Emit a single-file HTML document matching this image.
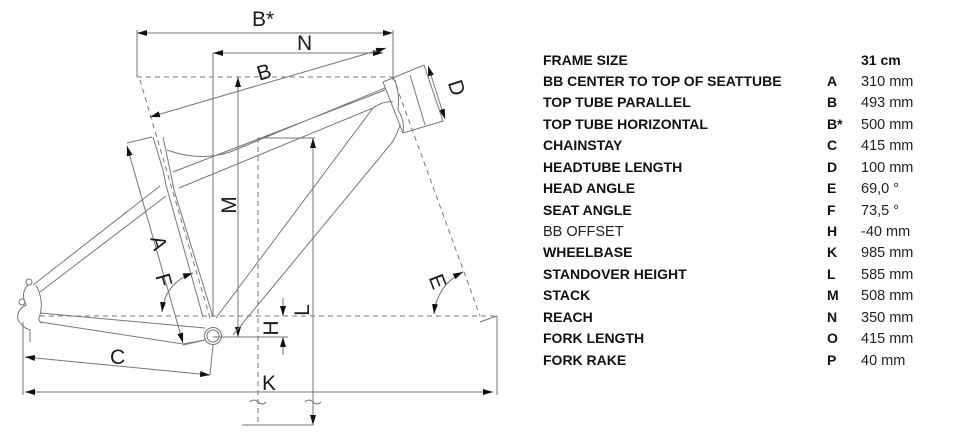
<!DOCTYPE html>
<html><head><meta charset="utf-8"><style>
html,body{margin:0;padding:0;background:#fff;width:956px;height:433px;overflow:hidden}
svg{display:block}
.l{stroke:#777;stroke-width:1;fill:none}
.d{stroke:#777;stroke-width:1;fill:none;stroke-dasharray:5 4}
.lab{font-family:"Liberation Sans",sans-serif;font-size:21px;fill:#1a1a1a}
.t{font-family:"Liberation Sans",sans-serif;font-size:14px;font-weight:bold;fill:#111}
.n{font-family:"Liberation Sans",sans-serif;font-size:14.5px;fill:#222}
</style></head><body>
<svg width="956" height="433" viewBox="0 0 956 433" xmlns="http://www.w3.org/2000/svg">
<defs>
<marker id="a" viewBox="0 0 10 6" refX="10" refY="3" markerWidth="10" markerHeight="6" orient="auto-start-reverse" markerUnits="userSpaceOnUse"><path d="M0,0L10,3L0,6z" fill="#111"/></marker>
</defs>
<line class="l" x1="137" y1="30" x2="137" y2="77"/>
<line class="l" x1="393" y1="30" x2="393" y2="80"/>
<line class="l" x1="213" y1="53" x2="213" y2="316"/>
<line class="d" x1="137" y1="77" x2="393" y2="77"/>
<line class="d" x1="140" y1="80" x2="210" y2="318"/>
<line class="d" x1="393" y1="77" x2="480" y2="316"/>
<line class="d" x1="40" y1="316" x2="497" y2="316"/>
<line class="l" x1="480" y1="322" x2="497" y2="316"/>
<line class="l" x1="497" y1="316" x2="497" y2="395"/>
<line class="d" x1="258" y1="138" x2="258" y2="425"/>
<line class="l" x1="258" y1="138" x2="315" y2="138"/>
<line class="l" x1="242" y1="425" x2="313" y2="425"/>
<line class="l" x1="213" y1="337" x2="288" y2="337"/>
<line class="l" x1="23" y1="322" x2="23" y2="395"/>
<line class="l" x1="210" y1="375" x2="213" y2="345"/>
<line class="l" x1="183" y1="345" x2="205" y2="340"/>
<line class="l" x1="127" y1="143" x2="152" y2="137"/>
<path class="l" d="M250,402 q4,-4 8,0 t8,0 M305,402 q4,-4 8,0 t8,0"/>
<line class="l" x1="137" y1="33" x2="393" y2="33" marker-start="url(#a)" marker-end="url(#a)"/>
<line class="l" x1="213" y1="53" x2="383" y2="53" marker-start="url(#a)" marker-end="url(#a)"/>
<line class="l" x1="150" y1="117" x2="386" y2="48" marker-start="url(#a)" marker-end="url(#a)"/>
<line class="l" x1="238" y1="77" x2="238" y2="337" marker-start="url(#a)" marker-end="url(#a)"/>
<line class="l" x1="313" y1="138" x2="313" y2="425" marker-start="url(#a)" marker-end="url(#a)"/>
<line class="l" x1="127" y1="146" x2="183" y2="343" marker-start="url(#a)" marker-end="url(#a)"/>
<line class="l" x1="25" y1="357" x2="210" y2="375" marker-start="url(#a)" marker-end="url(#a)"/>
<line class="l" x1="25" y1="392" x2="493" y2="392" marker-start="url(#a)" marker-end="url(#a)"/>
<line class="l" x1="428" y1="66" x2="445" y2="119" marker-start="url(#a)" marker-end="url(#a)"/>
<line class="l" x1="283" y1="298" x2="283" y2="316" marker-end="url(#a)"/>
<line class="l" x1="283" y1="355" x2="283" y2="337" marker-end="url(#a)"/>
<path class="l" d="M162,312 Q165,283 193,273" marker-start="url(#a)" marker-end="url(#a)"/>
<path class="l" d="M434,314 Q437,285 463,272" marker-start="url(#a)" marker-end="url(#a)"/>
<polygon class="l" points="383,82 424,65 443,121 403,133"/>
<path class="l" d="M395,80 Q400,95 398,110 Q405,120 403,133 M410,75 L425,125"/>
<path class="l" d="M163,137 L170,170 L174,190 L213,317 M153,137 L163,170 L166,185 L203,317"/>
<path class="l" d="M167,150 Q200,162 230,152 L385,88 M173,172 L385,90 M179,188 L373,108 Q385,100 393,102"/>
<path class="l" d="M373,108 L216,318 M400,125 Q395,140 390,145 L233,335"/>
<path class="l" d="M160,186 L33,285 M166,196 L40,292"/>
<path class="l" d="M40,313 L205,328 M40,322 L183,344 L205,340"/>
<path class="l" d="M28,285 q-8,8 -2,20 q-10,5 -8,15 q5,8 12,10 l0,12 M36,285 q8,15 4,30 q-3,6 2,8"/>
<circle class="l" cx="22" cy="302" r="3"/><circle class="l" cx="29" cy="282" r="3"/>
<circle class="l" cx="213" cy="336" r="8.5"/><circle class="l" cx="213" cy="336" r="6"/>
<text class="lab" x="252" y="26">B*</text>
<text class="lab" x="297" y="50">N</text>
<text class="lab" transform="translate(266,79) rotate(-16)" text-anchor="middle">B</text>
<text class="lab" transform="translate(236,205) rotate(-90)" text-anchor="middle">M</text>
<text class="lab" transform="translate(450,90) rotate(72)" text-anchor="middle">D</text>
<text class="lab" transform="translate(152,245) rotate(74)" text-anchor="middle">A</text>
<text class="lab" transform="translate(157,282) rotate(74)" text-anchor="middle">F</text>
<text class="lab" transform="translate(431,284) rotate(69)" text-anchor="middle">E</text>
<text class="lab" transform="translate(278,328) rotate(-90)" text-anchor="middle">H</text>
<text class="lab" transform="translate(309,310) rotate(-90)" text-anchor="middle">L</text>
<text class="lab" x="110" y="364">C</text>
<text class="lab" x="262" y="390">K</text>
<g>
<text class="t" x="543" y="65">FRAME SIZE</text><text class="t" x="861" y="65">31 cm</text>
<text class="t" x="543" y="86">BB CENTER TO TOP OF SEATTUBE</text><text class="t" x="827" y="86">A</text><text class="n" x="861" y="86">310 mm</text>
<text class="t" x="543" y="107">TOP TUBE PARALLEL</text><text class="t" x="827" y="107">B</text><text class="n" x="861" y="107">493 mm</text>
<text class="t" x="543" y="129">TOP TUBE HORIZONTAL</text><text class="t" x="827" y="129">B*</text><text class="n" x="861" y="129">500 mm</text>
<text class="t" x="543" y="150">CHAINSTAY</text><text class="t" x="827" y="150">C</text><text class="n" x="861" y="150">415 mm</text>
<text class="t" x="543" y="172">HEADTUBE LENGTH</text><text class="t" x="827" y="172">D</text><text class="n" x="861" y="172">100 mm</text>
<text class="t" x="543" y="193">HEAD ANGLE</text><text class="t" x="827" y="193">E</text><text class="n" x="861" y="193">69,0 °</text>
<text class="t" x="543" y="215">SEAT ANGLE</text><text class="t" x="827" y="215">F</text><text class="n" x="861" y="215">73,5 °</text>
<text class="n" x="543" y="236">BB OFFSET</text><text class="t" x="827" y="236">H</text><text class="n" x="861" y="236">-40 mm</text>
<text class="t" x="543" y="257">WHEELBASE</text><text class="t" x="827" y="257">K</text><text class="n" x="861" y="257">985 mm</text>
<text class="t" x="543" y="279">STANDOVER HEIGHT</text><text class="t" x="827" y="279">L</text><text class="n" x="861" y="279">585 mm</text>
<text class="t" x="543" y="300">STACK</text><text class="t" x="827" y="300">M</text><text class="n" x="861" y="300">508 mm</text>
<text class="t" x="543" y="322">REACH</text><text class="t" x="827" y="322">N</text><text class="n" x="861" y="322">350 mm</text>
<text class="t" x="543" y="343">FORK LENGTH</text><text class="t" x="827" y="343">O</text><text class="n" x="861" y="343">415 mm</text>
<text class="t" x="543" y="365">FORK RAKE</text><text class="t" x="827" y="365">P</text><text class="n" x="861" y="365">40 mm</text>
</g>
</svg>
</body></html>
